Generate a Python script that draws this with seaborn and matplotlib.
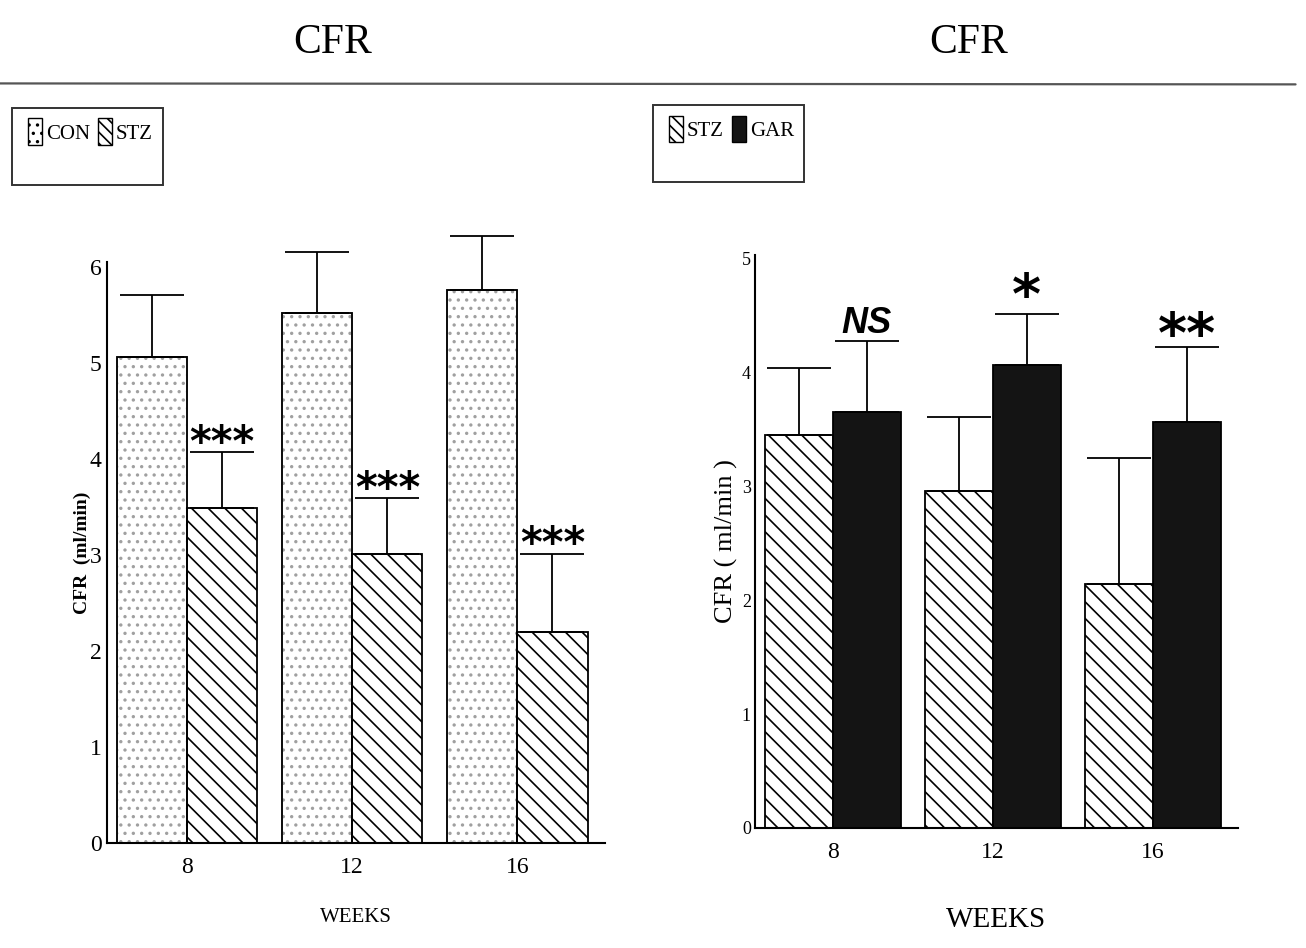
import pandas as pd
import seaborn as sns
import matplotlib.pyplot as plt
from matplotlib.patches import Rectangle, Patch
from matplotlib.lines import Line2D

# datos
weeks = ["8", "12", "16"]
con_cfr = [5.06, 5.52, 5.76]
con_sem = [0.65, 0.63, 0.56]
stz_cfr = [3.49, 3.01, 2.20]
stz_sem = [0.58, 0.58, 0.81]
stz2_cfr = [3.45, 2.96, 2.14]
stz2_sem = [0.59, 0.65, 1.11]
gar_cfr = [3.65, 4.06, 3.56]
gar_sem = [0.62, 0.45, 0.66]
left_marks = ["***", "***", "***"]
right_marks = ["NS", "*", "**"]

sns.set_theme(style="white")
plt.rcParams["font.family"] = ["Liberation Serif", "DejaVu Serif"]
plt.rcParams["hatch.linewidth"] = 1.2
plt.rcParams["text.color"] = "black"
plt.rcParams["axes.labelcolor"] = "black"
plt.rcParams["xtick.color"] = "black"
plt.rcParams["ytick.color"] = "black"

df_left = pd.DataFrame({"week": weeks * 2,
                        "cfr": con_cfr + stz_cfr,
                        "group": ["CON"] * 3 + ["STZ"] * 3})
df_right = pd.DataFrame({"week": weeks * 2,
                         "cfr": stz2_cfr + gar_cfr,
                         "group": ["STZ"] * 3 + ["GAR"] * 3})

fig = plt.figure(figsize=(13.06, 9.48), dpi=100)
ax1 = fig.add_axes([0.0819, 0.1108, 0.3813, 0.6129])
ax2 = fig.add_axes([0.5781, 0.1266, 0.3698, 0.6046])


def dibujar(ax, df, order_hue, colors, hatches, sems, marks, mark_fs, mark_font, mark_off):
    sns.barplot(data=df, x="week", y="cfr", hue="group", order=weeks,
                hue_order=order_hue, palette=colors, width=0.85,
                errorbar=None, legend=False, edgecolor="black",
                linewidth=1.3, saturation=1, ax=ax)
    barras = list(ax.containers)
    for i, cont in enumerate(barras):
        for j, p in enumerate(cont.patches):
            p.set_hatch(hatches[i])
            if hatches[i] == "..":
                # puntos grises y contorno negro aparte
                p.set_edgecolor("#a0a0a0")
                ax.add_patch(Rectangle(p.get_xy(), p.get_width(), p.get_height(),
                                       fill=False, ec="black", lw=1.3, zorder=3))
            xc = p.get_x() + p.get_width() / 2
            h = p.get_height()
            ax.errorbar(xc, h, yerr=[[0], [sems[i][j]]], fmt="none",
                        ecolor="black", elinewidth=1.3, capsize=23,
                        capthick=1.3, zorder=4, clip_on=False)
    # marcas de significancia sobre la segunda serie
    for j, p in enumerate(barras[1].patches):
        xc = p.get_x() + p.get_width() / 2
        top = p.get_height() + sems[1][j]
        ax.annotate(marks[j], (xc, top), xytext=(0, mark_off[j]), textcoords="offset points",
                    ha="center", va="bottom", fontsize=mark_fs[j],
                    annotation_clip=False, **mark_font[j])
    sns.despine(ax=ax)
    for s in ["left", "bottom"]:
        ax.spines[s].set_linewidth(1.5)
        ax.spines[s].set_color("black")
    ax.tick_params(length=0, pad=6)
    ax.set_xlim(-0.485, 2.53)


estrella = dict(family="DejaVu Sans", fontweight="bold")
dibujar(ax1, df_left, ["CON", "STZ"], ["white", "white"], ["..", "\\\\"],
        [con_sem, stz_sem], left_marks, [30, 30, 30],
        [estrella] * 3, [-9, -9, -9])
dibujar(ax2, df_right, ["STZ", "GAR"], ["white", "#141414"], ["\\\\", ""],
        [stz2_sem, gar_sem], right_marks, [26, 40, 40],
        [dict(family="Liberation Sans", fontweight="bold", fontstyle="italic"),
         estrella, estrella], [0, -8, -12])

ax1.set_ylim(0, 6.05)
ax1.set_yticks(range(0, 7))
ax1.tick_params(axis="y", labelsize=17, pad=4)
ax1.tick_params(axis="x", labelsize=17, pad=10)
ax1.set_ylabel("CFR  (ml/min)", fontsize=14, fontweight="bold", labelpad=-1)
ax1.set_xlabel("WEEKS", fontsize=15, labelpad=22)

ax2.set_ylim(0, 5.03)
ax2.set_yticks(range(0, 6))
ax2.tick_params(axis="y", labelsize=13, pad=3)
ax2.tick_params(axis="x", labelsize=17, pad=10)
ax2.set_ylabel("CFR ( ml/min )", fontsize=19, labelpad=3)
ax2.set_xlabel("WEEKS", fontsize=21, labelpad=32)

# titulos y linea superior
fig.text(0.255, 0.955, "CFR", ha="center", va="center", fontsize=30)
fig.text(0.742, 0.955, "CFR", ha="center", va="center", fontsize=30)
fig.add_artist(Line2D([0.0, 0.992], [0.912, 0.911], color="#555555", lw=1.6))

# leyendas en cajas
for (x0, y0), labels, colors, hatches in [
        ((0.0092, 0.8049), ["CON", "STZ"], ["white", "white"], ["..", "\\\\\\"]),
        ((0.5000, 0.8080), ["STZ", "GAR"], ["white", "#141414"], ["\\\\\\", ""])]:
    fig.add_artist(Rectangle((x0, y0), 0.1156, 0.0812, transform=fig.transFigure,
                             fill=False, ec="#333333", lw=1.4))
    handles = [Patch(facecolor=c, edgecolor="black", hatch=h, lw=1.0)
               for c, h in zip(colors, hatches)]
    fig.legend(handles, labels, loc="center left", ncol=2,
               bbox_to_anchor=(x0 - 0.002, y0 + 0.056), frameon=False,
               handlelength=0.65, handleheight=1.6, handletextpad=0.2,
               columnspacing=0.4, fontsize=15)

fig.savefig("out.png", dpi=100, facecolor="white")
